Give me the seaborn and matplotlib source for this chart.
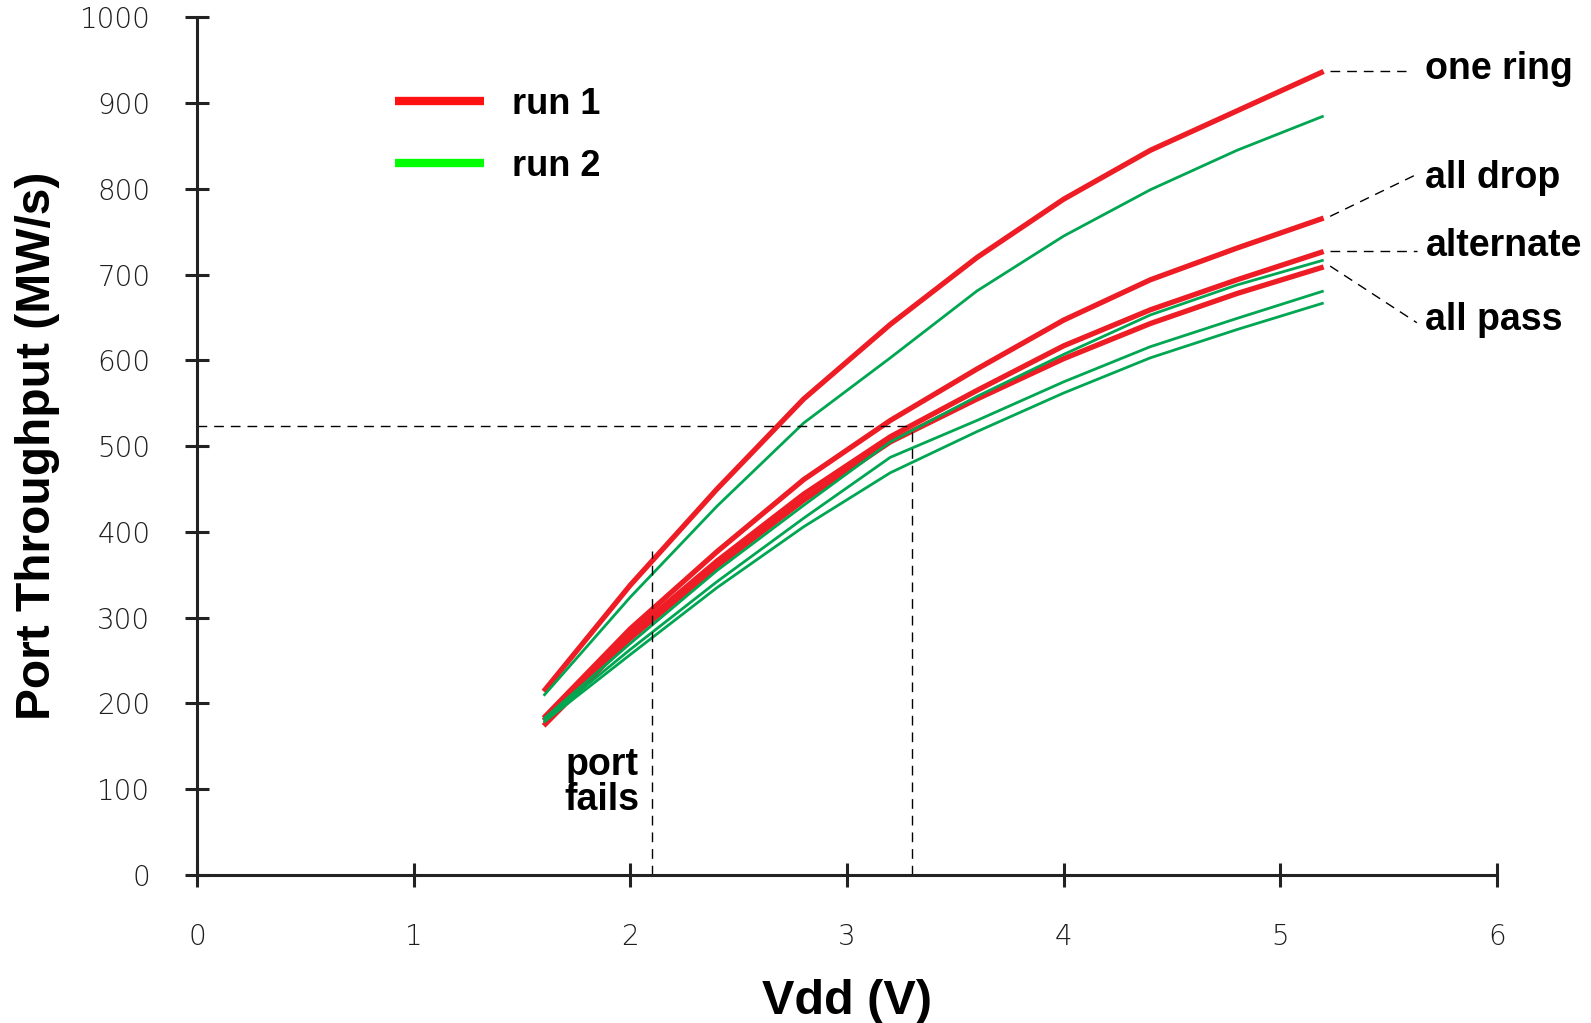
import matplotlib
matplotlib.use("Agg")
import matplotlib.pyplot as plt
from matplotlib.lines import Line2D
import seaborn as sns
import pandas as pd

# ---------------- data ----------------
vdd = [1.6, 2.0, 2.4, 2.8, 3.2, 3.6, 4.0, 4.4, 4.8, 5.2]

run1_one_ring = [214, 338, 450, 555, 642, 720, 788, 845, 891, 937]
run1_all_drop = [183, 287, 377, 461, 530, 590, 647, 694, 731, 766]
run1_alternate = [180, 281, 366, 444, 511, 565, 617, 659, 694, 727]
run1_all_pass = [174, 276, 360, 437, 505, 555, 602, 643, 678, 709]

run2_one_ring = [209, 324, 430, 527, 603, 681, 745, 799, 845, 885]
run2_a = [182, 270, 355, 431, 505, 558, 607, 653, 688, 717]
run2_b = [180, 263, 342, 416, 487, 530, 575, 616, 649, 681]
run2_c = [178, 257, 335, 406, 469, 517, 562, 603, 636, 667]

x_ticks = [0, 1, 2, 3, 4, 5, 6]
y_ticks = [0, 100, 200, 300, 400, 500, 600, 700, 800, 900, 1000]

labels = ["one ring", "all drop", "alternate", "all pass"]
leader_start_y = [937, 768, 728, 710]
leader_end_x = [5.58, 5.63, 5.63, 5.63]
leader_end_y = [937, 817, 728, 644]
label_text_y = [940, 813, 734, 647]
fail_v, fail_tp = 2.1, 378
ref_v, ref_tp = 3.3, 524

RED = "#ee1c24"
GREEN = "#00a651"

run1 = [run1_one_ring, run1_all_drop, run1_alternate, run1_all_pass]
run2 = [run2_one_ring, run2_a, run2_b, run2_c]

# ---------------- figure ----------------
sns.set_theme(style="white")
fig = plt.figure(figsize=(15.91, 10.23), dpi=100)
ax = fig.add_axes([0.1238, 0.1447, 0.8171, 0.8383])

for ys in run1:
    df = pd.DataFrame({"vdd": vdd, "tp": ys})
    sns.lineplot(data=df, x="vdd", y="tp", ax=ax, color=RED, linewidth=3.8,
                 solid_capstyle="butt", solid_joinstyle="round")
for ys in run2:
    df = pd.DataFrame({"vdd": vdd, "tp": ys})
    sns.lineplot(data=df, x="vdd", y="tp", ax=ax, color=GREEN, linewidth=2.0,
                 solid_capstyle="butt", solid_joinstyle="round")

dash = dict(color="black", linewidth=1.0, linestyle=(0, (7, 5)))
# reference dashed lines
ax.plot([0, ref_v], [ref_tp, ref_tp], **dash)
ax.plot([ref_v, ref_v], [0, ref_tp], **dash)
ax.plot([fail_v, fail_v], [0, fail_tp], **dash)

# leader lines and curve labels
x_end = vdd[-1]
for lab, y0, x1, y1, yt in zip(labels, leader_start_y, leader_end_x, leader_end_y, label_text_y):
    ax.plot([x_end + 0.03, x1], [y0, y1], clip_on=False, **dash)
    ax.text(5.67, yt, lab, fontsize=27, fontweight="bold", family="Liberation Sans",
            va="center", ha="left", color="black", clip_on=False)

ax.text(1.87, 108, "port\nfails", fontsize=27, fontweight="bold", family="Liberation Sans",
        ha="center", va="center", linespacing=0.94, color="black")

# axes
ax.set_xlim(0, 6)
ax.set_ylim(0, 1000)
ax.set_xticks(x_ticks)
ax.set_yticks(y_ticks)
ax.set_xticklabels([str(t) for t in x_ticks])
ax.set_yticklabels([str(t) for t in y_ticks])
for sp in ["top", "right"]:
    ax.spines[sp].set_visible(False)
for sp in ["left", "bottom"]:
    ax.spines[sp].set_color("#222222")
    ax.spines[sp].set_linewidth(2.2)
ax.tick_params(axis="both", direction="inout", length=17, width=2.2, color="#222222",
               labelsize=20, labelcolor="#1e1e1e", bottom=True, left=True)
ax.tick_params(axis="y", pad=25)
ax.tick_params(axis="x", pad=26)
for t in ax.get_xticklabels() + ax.get_yticklabels():
    t.set_family("DejaVu Sans")
    t.set_fontweight("light")

ax.set_xlabel("Vdd (V)", fontsize=35, fontweight="bold", family="Liberation Sans",
              labelpad=20, color="black")
ax.set_ylabel("Port Throughput (MW/s)", fontsize=34.5, fontweight="bold",
              family="Liberation Sans", labelpad=14, color="black")

handles = [Line2D([], [], color="#ff1111", linewidth=6, solid_capstyle="butt"),
           Line2D([], [], color="#00ff00", linewidth=6, solid_capstyle="butt")]
leg = ax.legend(handles, ["run 1", "run 2"], loc="upper left",
                bbox_to_anchor=(0.1386, 0.94), frameon=False, borderpad=0,
                handlelength=2.47, handletextpad=0.76, labelspacing=0.75,
                prop={"family": "Liberation Sans", "weight": "bold", "size": 26})
for t in leg.get_texts():
    t.set_color("black")

fig.savefig("out.png", dpi=100, facecolor="white")
